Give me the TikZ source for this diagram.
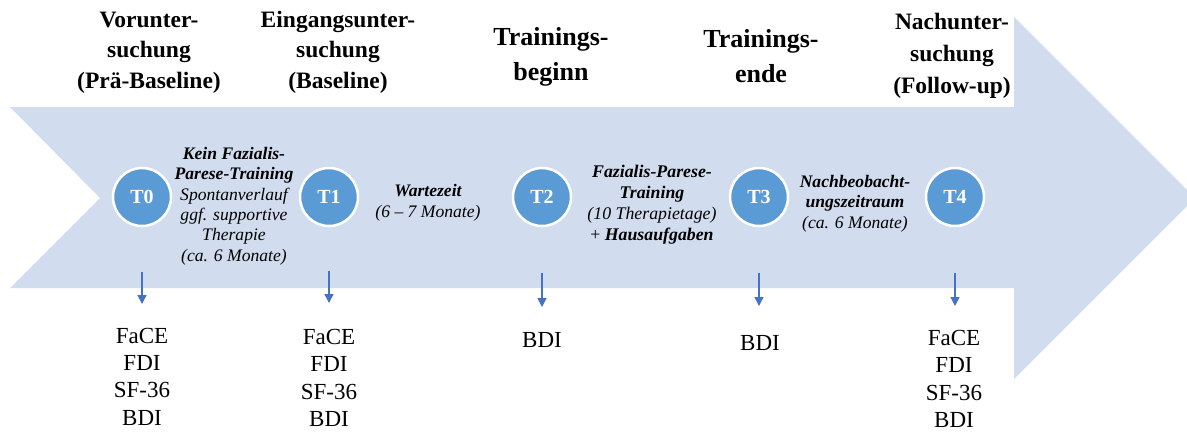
\documentclass[tikz,border=0pt]{standalone}
\usepackage{fontspec}
\setmainfont{Liberation Serif}
\usetikzlibrary{arrows.meta}
\definecolor{band}{RGB}{209,221,238}
\definecolor{dot}{RGB}{91,155,213}
\definecolor{arr}{RGB}{68,114,196}
\begin{document}
\begin{tikzpicture}[x=1pt,y=-1pt,
  title/.style={font=\bfseries\fontsize{23.5}{30.5}\selectfont, align=center, anchor=base, inner sep=0pt},
  titlebig/.style={font=\bfseries\fontsize{26}{35}\selectfont, align=center, anchor=base, inner sep=0pt},
  phase/.style={font=\itshape\fontsize{17.6}{20.3}\selectfont, align=center, anchor=base, inner sep=0pt},
  tp/.style={circle, fill=dot, draw=white, line width=2.5pt, minimum size=58pt, inner sep=0pt, text=white, font=\bfseries\fontsize{20}{24}\selectfont},
  meas/.style={font=\fontsize{23}{27.3}\selectfont, align=center, anchor=base, inner sep=0pt},
  down/.style={draw=arr, line width=1.3pt, -{Triangle[length=9pt,width=9pt]}}]
\clip (0,0) rectangle (1187,432);
% big arrow
\fill[band] (10,107) -- (1014,107) -- (1014,17) -- (1195,198) -- (1014,379) -- (1014,288) -- (10,288) -- (100,198) -- cycle;
% titles (anchor = baseline of last line)
\node[title] (h0) at (149,88) {Vorunter-\\suchung\\(Prä-Baseline)};
\node[title] (h1) at (338,88) {Eingangsunter-\\suchung\\(Baseline)};
\node[titlebig] (h2) at (551,80) {Trainings-\\beginn};
\node[titlebig] (h3) at (761,82) {Trainings-\\ende};
\node[title, font=\bfseries\fontsize{23.5}{31.7}\selectfont] (h4) at (952,93) {Nachunter-\\suchung\\(Follow-up)};
% time points
\node[tp] (t0) at (142,197) {T0};
\node[tp] (t1) at (329,197) {T1};
\node[tp] (t2) at (542,197) {T2};
\node[tp] (t3) at (759,197) {T3};
\node[tp] (t4) at (955,197) {T4};
% phases
\node[phase] (p0) at (234,261) {\textbf{Kein Fazialis-}\\\textbf{Parese-Training}\\Spontanverlauf\\ggf. supportive\\Therapie\\(ca. 6 Monate)};
\node[phase, font=\itshape\fontsize{17.6}{21}\selectfont] (p1) at (428,217) {\textbf{Wartezeit}\\(6 – 7 Monate)};
\node[phase, font=\itshape\fontsize{17.8}{21}\selectfont] (p2) at (652,240) {\textbf{Fazialis-Parese-}\\\textbf{Training}\\(10 Therapietage)\\{\upshape +} \textbf{Hausaufgaben}};
\node[phase] (p3) at (855,228) {\textbf{Nachbeobacht-}\\\textbf{ungszeitraum}\\(ca. 6 Monate)};
% arrows
\coordinate (a0) at (142,272); \coordinate (b0) at (142,304);
\coordinate (a1) at (329,271); \coordinate (b1) at (329,303);
\coordinate (a2) at (542,273); \coordinate (b2) at (542,307);
\coordinate (a3) at (759,273); \coordinate (b3) at (759,306);
\coordinate (a4) at (955,273); \coordinate (b4) at (955,306);
\draw[down] (a0) -- (b0);
\draw[down] (a1) -- (b1);
\draw[down] (a2) -- (b2);
\draw[down] (a3) -- (b3);
\draw[down] (a4) -- (b4);
% measures
\node[meas] (m0) at (142,425) {FaCE\\FDI\\SF-36\\BDI};
\node[meas] (m1) at (329,426.5) {FaCE\\FDI\\SF-36\\BDI};
\node[meas] (m2) at (542,347) {BDI};
\node[meas] (m3) at (760,350) {BDI};
\node[meas] (m4) at (954,427.5) {FaCE\\FDI\\SF-36\\BDI};
\end{tikzpicture}
\end{document}
